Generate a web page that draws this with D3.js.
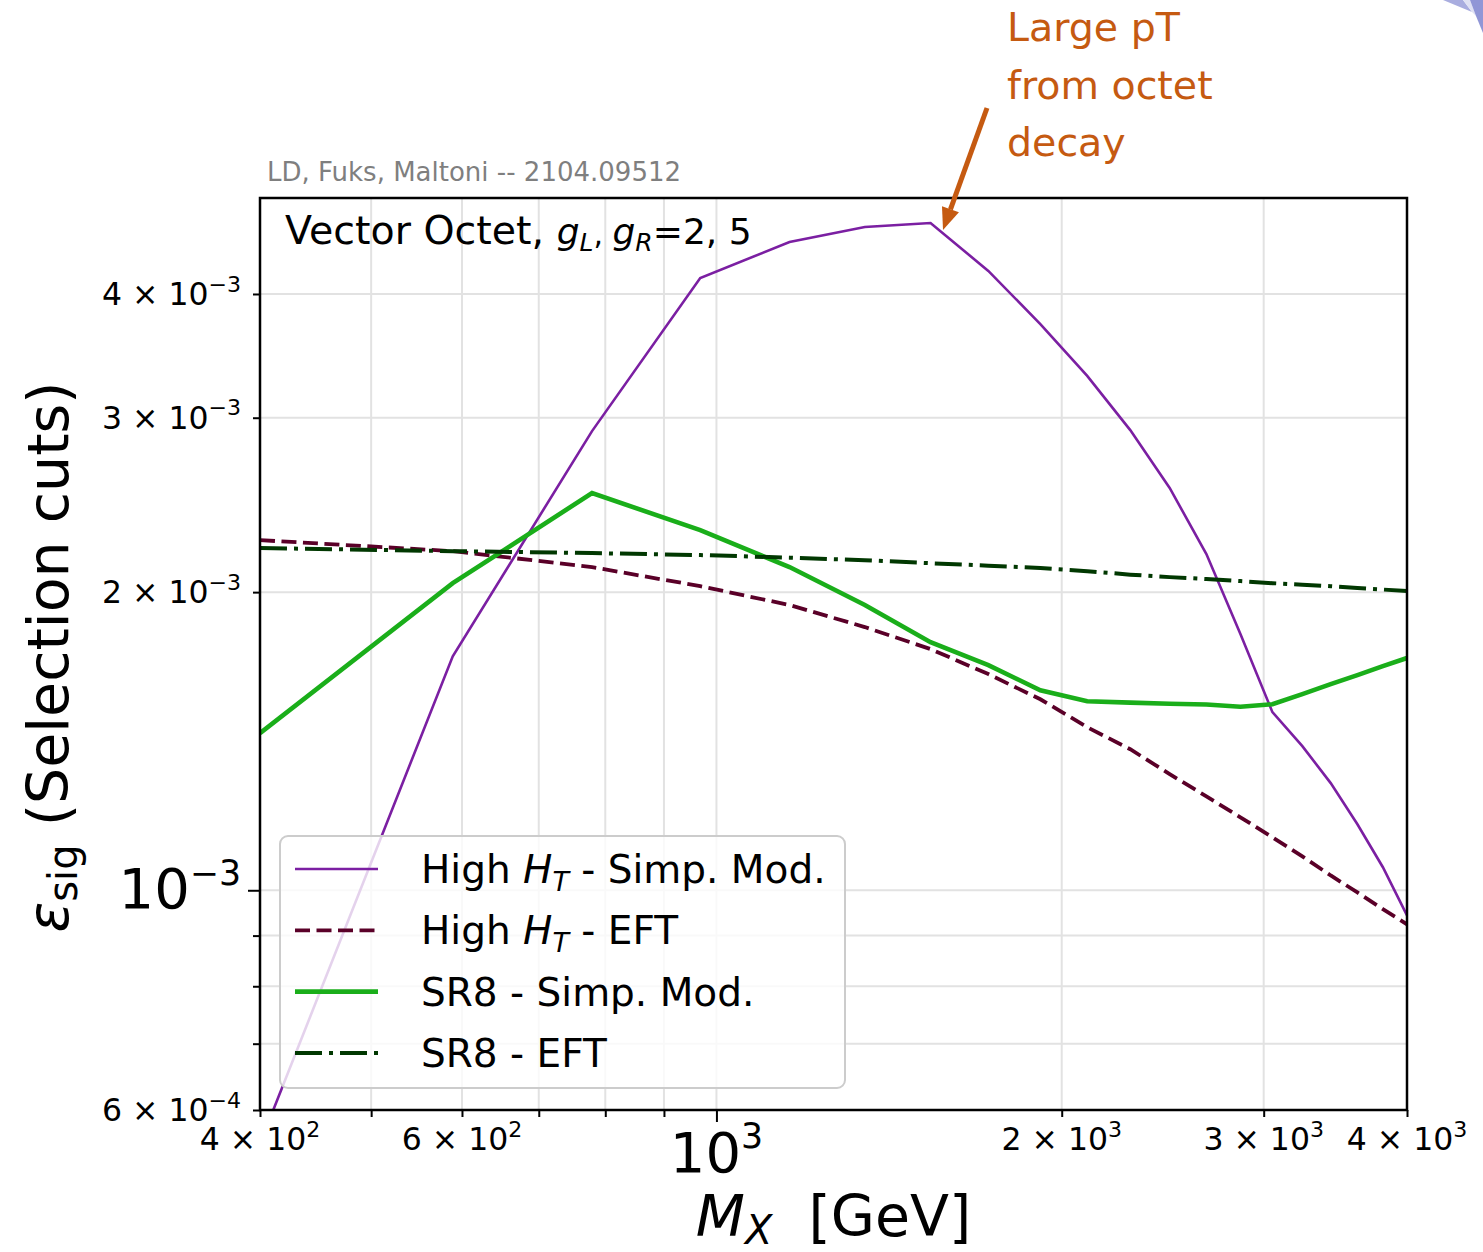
<!DOCTYPE html>
<html>
<head>
<meta charset="utf-8">
<script src="https://cdn.jsdelivr.net/npm/d3@7"></script>
<style>
	body { margin: 0; background: #fff; }
	svg { display: block; }
	text { font-family: "DejaVu Sans", sans-serif; white-space: pre; }
</style>
</head>
<body>
<script>
// masses M_X [GeV]
const masses = [400, 589, 779, 968, 1158, 1347, 1537, 1726, 1916, 2105, 2295, 2484, 2674, 2863, 3053, 3242, 3432, 3621, 3811, 4000]

// efficiencies
const htSimp = [5.55e-4, 1.723e-3, 2.908e-3, 4.152e-3, 4.513e-3, 4.674e-3, 4.718e-3, 4.220e-3, 3.730e-3, 3.306e-3,
	2.915e-3, 2.548e-3, 2.185e-3, 1.814e-3, 1.513e-3, 1.398e-3, 1.283e-3, 1.166e-3, 1.055e-3, 0.943e-3]
const htEft = [2.257e-3, 2.200e-3, 2.120e-3, 2.028e-3, 1.941e-3, 1.844e-3, 1.752e-3, 1.653e-3, 1.559e-3, 1.461e-3,
	1.388e-3, 1.310e-3, 1.244e-3, 1.185e-3, 1.131e-3, 1.082e-3, 1.035e-3, 0.995e-3, 0.957e-3, 0.924e-3]
const sr8Simp = [1.441e-3, 2.042e-3, 2.518e-3, 2.310e-3, 2.120e-3, 1.941e-3, 1.780e-3, 1.688e-3, 1.592e-3, 1.552e-3,
	1.547e-3, 1.543e-3, 1.540e-3, 1.532e-3, 1.541e-3, 1.578e-3, 1.615e-3, 1.649e-3, 1.684e-3, 1.716e-3]
const sr8Eft = [2.216e-3, 2.200e-3, 2.190e-3, 2.180e-3, 2.167e-3, 2.154e-3, 2.139e-3, 2.127e-3, 2.115e-3, 2.100e-3,
	2.083e-3, 2.071e-3, 2.062e-3, 2.052e-3, 2.042e-3, 2.035e-3, 2.028e-3, 2.019e-3, 2.012e-3, 2.005e-3]

// ticks
const xMajor = [1000]
const xMinor = [400, 500, 600, 700, 800, 900, 2000, 3000, 4000]
const xLabels = [[400, "4 × 10", "2", false], [600, "6 × 10", "2", false], [1000, "10", "3", true],
	[2000, "2 × 10", "3", false], [3000, "3 × 10", "3", false], [4000, "4 × 10", "3", false]]
const yMajor = [1e-3]
const yMinor = [6e-4, 7e-4, 8e-4, 9e-4, 2e-3, 3e-3, 4e-3]
const yLabels = [[6e-4, "6 × 10", "−4", false], [1e-3, "10", "−3", true],
	[2e-3, "2 × 10", "−3", false], [3e-3, "3 × 10", "−3", false], [4e-3, "4 × 10", "−3", false]]

const W = 1483, H = 1252
const pL = 260, pR = 1407, pT = 198, pB = 1110

const svg = d3.select("body").append("svg").attr("width", W).attr("height", H)

const x = d3.scaleLog().domain([400, 4000]).range([pL, pR])
const y = d3.scaleLog().domain([6e-4, 5e-3]).range([pB, pT])

// rich text helper: parts = {t, it, dy (px, + is down), size}
function rich(sel, parts) {
	let shift = 0
	parts.forEach(p => {
		let ts = sel.append("tspan").text(p.t)
		let target = p.dy || 0
		if (p.size) ts.attr("font-size", p.size)
		if (p.it) ts.attr("font-style", "italic")
		if (target - shift != 0) ts.attr("dy", target - shift)
		shift = target
	})
}

// slide decoration in the corner
const deco = [
	{ c: "#a9addf", p: [[1443, 0], [1463, 0], [1472, 12]] },
	{ c: "#dfe1f3", p: [[1463, 0], [1470, 0], [1476, 16], [1472, 12]] },
	{ c: "#9096d6", p: [[1470, 0], [1483, 0], [1483, 33], [1476, 16]] }
]
deco.forEach(d => svg.append("polygon").attr("points", d.p.join(" ")).attr("fill", d.c))

// grid
const grid = svg.append("g").attr("stroke", "#e2e2e2").attr("stroke-width", 2)
grid.selectAll(".gx").data([500, 600, 700, 800, 900, 1000, 2000, 3000]).enter().append("line")
	.attr("x1", d => x(d)).attr("x2", d => x(d)).attr("y1", pT).attr("y2", pB)
grid.selectAll(".gy").data([7e-4, 8e-4, 9e-4, 1e-3, 2e-3, 3e-3, 4e-3]).enter().append("line")
	.attr("x1", pL).attr("x2", pR).attr("y1", d => y(d)).attr("y2", d => y(d))

// series
const series = [
	{ name: "ht", vals: htSimp, color: "#7b1fa2", w: 2.6, dash: null },
	{ name: "hte", vals: htEft, color: "#5a0028", w: 3.8, dash: "15,6.5" },
	{ name: "sr8", vals: sr8Simp, color: "#1aae1a", w: 4.6, dash: null },
	{ name: "sr8e", vals: sr8Eft, color: "#013801", w: 4, dash: "27,7,4,7" }
]

svg.append("clipPath").attr("id", "clip").append("rect")
	.attr("x", pL).attr("y", pT).attr("width", pR - pL).attr("height", pB - pT)

const line = d3.line().x(d => x(d[0])).y(d => y(d[1]))
const plot = svg.append("g").attr("clip-path", "url(#clip)")
series.forEach(s => {
	plot.append("path").datum(masses.map((m, i) => [m, s.vals[i]]))
		.attr("d", line).attr("fill", "none").attr("stroke", s.color)
		.attr("stroke-width", s.w).attr("stroke-dasharray", s.dash)
})

// axes
function ticks(axis, vals, size, tr) {
	let g = svg.append("g").attr("transform", tr)
		.call(axis.tickValues(vals).tickSize(size).tickFormat(""))
	g.select(".domain").remove()
	g.selectAll("line").attr("stroke", "#000").attr("stroke-width", 2)
}
ticks(d3.axisBottom(x), xMinor, 7, `translate(0,${pB})`)
ticks(d3.axisBottom(x), xMajor, 12, `translate(0,${pB})`)
ticks(d3.axisLeft(y), yMinor, 7, `translate(${pL},0)`)
ticks(d3.axisLeft(y), yMajor, 12, `translate(${pL},0)`)

svg.append("rect").attr("x", pL).attr("y", pT).attr("width", pR - pL).attr("height", pB - pT)
	.attr("fill", "none").attr("stroke", "#000").attr("stroke-width", 2.5)

xLabels.forEach(([v, b, e, big]) => {
	let fs = big ? 56 : 31.5
	let t = svg.append("text").attr("x", x(v)).attr("y", big ? 1172 : 1150)
		.attr("text-anchor", "middle").attr("font-size", fs)
	rich(t, [{ t: b }, { t: e, size: fs * (big ? 0.62 : 0.7), dy: -fs * 0.42 }])
})
yLabels.forEach(([v, b, e, big]) => {
	let fs = big ? 56 : 31.5
	let t = svg.append("text").attr("x", 241).attr("y", y(v) + (big ? 18 : 11))
		.attr("text-anchor", "end").attr("font-size", fs)
	rich(t, [{ t: b }, { t: e, size: fs * (big ? 0.62 : 0.7), dy: -fs * 0.42 }])
})

// axis titles
let xl = svg.append("text").attr("x", (pL + pR) / 2).attr("y", 1236)
	.attr("text-anchor", "middle").attr("font-size", 57)
rich(xl, [{ t: "M", it: true }, { t: "X", it: true, size: 40, dy: 8 }, { t: "  [GeV]" }])

let yl = svg.append("text").attr("transform", "translate(68,657) rotate(-90)")
	.attr("text-anchor", "middle").attr("font-size", 57)
rich(yl, [{ t: "ε", it: true }, { t: "sig", size: 40, dy: 9 }, { t: " (Selection cuts)" }])

// in-plot label
let lab = svg.append("text").attr("x", 285).attr("y", 244).attr("font-size", 39.5)
rich(lab, [{ t: "Vector Octet, " }, { t: "g", it: true, size: 36 }, { t: "L", it: true, size: 25, dy: 7 },
	{ t: ", ", size: 30 }, { t: "g", it: true, size: 36 }, { t: "R", it: true, size: 25, dy: 7 }, { t: "=2,", size: 36 },
	{ t: " 5", size: 36 }])

// caption
svg.append("text").attr("x", 267).attr("y", 181).attr("font-family", "Lato, 'Open Sans', sans-serif")
	.attr("font-size", 26).attr("fill", "#7f7f7f").text("LD, Fuks, Maltoni -- 2104.09512")

// legend
const leg = svg.append("g")
leg.append("rect").attr("x", 280).attr("y", 836).attr("width", 565).attr("height", 252).attr("rx", 8)
	.attr("fill", "#fff").attr("fill-opacity", 0.8).attr("stroke", "#cccccc").attr("stroke-width", 2)
const legText = [
	[{ t: "High " }, { t: "H", it: true }, { t: "T", it: true, size: 27, dy: 8 }, { t: " - Simp. Mod." }],
	[{ t: "High " }, { t: "H", it: true }, { t: "T", it: true, size: 27, dy: 8 }, { t: " - EFT" }],
	[{ t: "SR8 - Simp. Mod." }],
	[{ t: "SR8 - EFT" }]
]
series.forEach((s, i) => {
	let yy = 869 + i * 61.3
	leg.append("line").attr("x1", 295).attr("x2", 378).attr("y1", yy).attr("y2", yy)
		.attr("stroke", s.color).attr("stroke-width", s.w).attr("stroke-dasharray", s.dash)
	let t = leg.append("text").attr("x", 421).attr("y", yy + 14).attr("font-size", 39)
	rich(t, legText[i])
})

// annotation
const orange = "#c55a11"
const ann = svg.append("text").attr("font-family", "Lato, 'Open Sans', sans-serif")
	.attr("font-size", 39.5).attr("fill", orange)
;["Large pT", "from octet", "decay"].forEach((s, i) => {
	ann.append("tspan").attr("x", 1007).attr("y", 41 + i * 57.5).text(s)
})
const a0 = [987, 108], a1 = [943, 230]
const ang = Math.atan2(a1[1] - a0[1], a1[0] - a0[0])
const hl = 22, hw = 9
const base = [a1[0] - hl * Math.cos(ang), a1[1] - hl * Math.sin(ang)]
svg.append("line").attr("x1", a0[0]).attr("y1", a0[1]).attr("x2", base[0]).attr("y2", base[1])
	.attr("stroke", orange).attr("stroke-width", 5)
svg.append("polygon").attr("fill", orange).attr("points", [
	a1,
	[base[0] + hw * Math.sin(ang), base[1] - hw * Math.cos(ang)],
	[base[0] - hw * Math.sin(ang), base[1] + hw * Math.cos(ang)]
].join(" "))
</script>
</body>
</html>
